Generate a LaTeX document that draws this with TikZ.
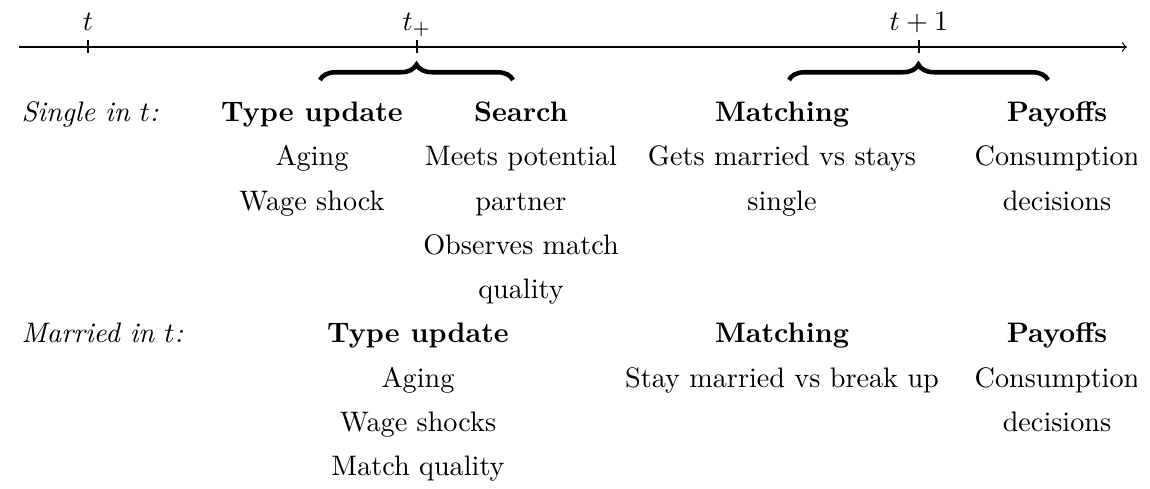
\documentclass[tikz,border=0pt]{standalone}
\usetikzlibrary{decorations.pathreplacing}
\begin{document}
\begin{tikzpicture}[x=0.3546pt,y=-0.3546pt,
  lbl/.style={anchor=base,inner sep=0pt},
  head/.style={lbl,font=\bfseries},
  rowlbl/.style={anchor=base west,inner sep=0pt,font=\itshape},
  bracestyle/.style={decorate,decoration={brace,amplitude=5.5pt},line width=1.6pt}]
\useasboundingbox (0,0) rectangle (1150,488);
\begin{scope}
\clip (0,0) rectangle (1136,488);
% time axis
\coordinate (a0) at (19,47);
\coordinate (a1) at (1127,47);
\draw[->] (a0) -- (a1);
\coordinate (k0t) at (88,40);  \coordinate (k0b) at (88,53);
\coordinate (k1t) at (417,40); \coordinate (k1b) at (417,53);
\coordinate (k2t) at (919,40); \coordinate (k2b) at (919,53);
\draw (k0t) -- (k0b);
\draw (k1t) -- (k1b);
\draw (k2t) -- (k2b);
\node[lbl] (lt)  at (88,30)  {$t$};
\node[lbl] (ltp) at (417,30) {$t_+$};
\node[lbl] (lt1) at (919,30) {$t+1$};
% braces
\coordinate (b1l) at (320,80); \coordinate (b1r) at (513,80);
\coordinate (b2l) at (789,80); \coordinate (b2r) at (1048,80);
\draw[bracestyle] (b1l) -- (b1r);
\draw[bracestyle] (b2l) -- (b2r);
% row: single
\node[rowlbl] (single) at (21,121) {Single in $t$:};
\node[head] (s1h) at (312,121) {Type update};
\node[lbl] (s1a) at (312,165) {Aging};
\node[lbl] (s1b) at (312,210) {Wage shock};
\node[head] (s2h) at (521,121) {Search};
\node[lbl] (s2a) at (521,165) {Meets potential};
\node[lbl] (s2b) at (521,210) {partner};
\node[lbl] (s2c) at (521,254) {Observes match};
\node[lbl] (s2d) at (521,298) {quality};
\node[head] (s3h) at (782,121) {Matching};
\node[lbl] (s3a) at (782,165) {Gets married vs stays};
\node[lbl] (s3b) at (782,210) {single};
\node[head] (s4h) at (1057,121) {Payoffs};
\node[lbl] (s4a) at (1057,165) {Consumption};
\node[lbl] (s4b) at (1057,210) {decisions};
% row: married
\node[rowlbl] (married) at (21,342) {Married in $t$:};
\node[head] (m1h) at (418,342) {Type update};
\node[lbl] (m1a) at (418,387) {Aging};
\node[lbl] (m1b) at (418,431) {Wage shocks};
\node[lbl] (m1c) at (418,475) {Match quality};
\node[head] (m3h) at (782,342) {Matching};
\node[lbl] (m3a) at (782,387) {Stay married vs break up};
\node[head] (m4h) at (1057,342) {Payoffs};
\node[lbl] (m4a) at (1057,387) {Consumption};
\node[lbl] (m4b) at (1057,431) {decisions};
\end{scope}
\end{tikzpicture}
\end{document}
